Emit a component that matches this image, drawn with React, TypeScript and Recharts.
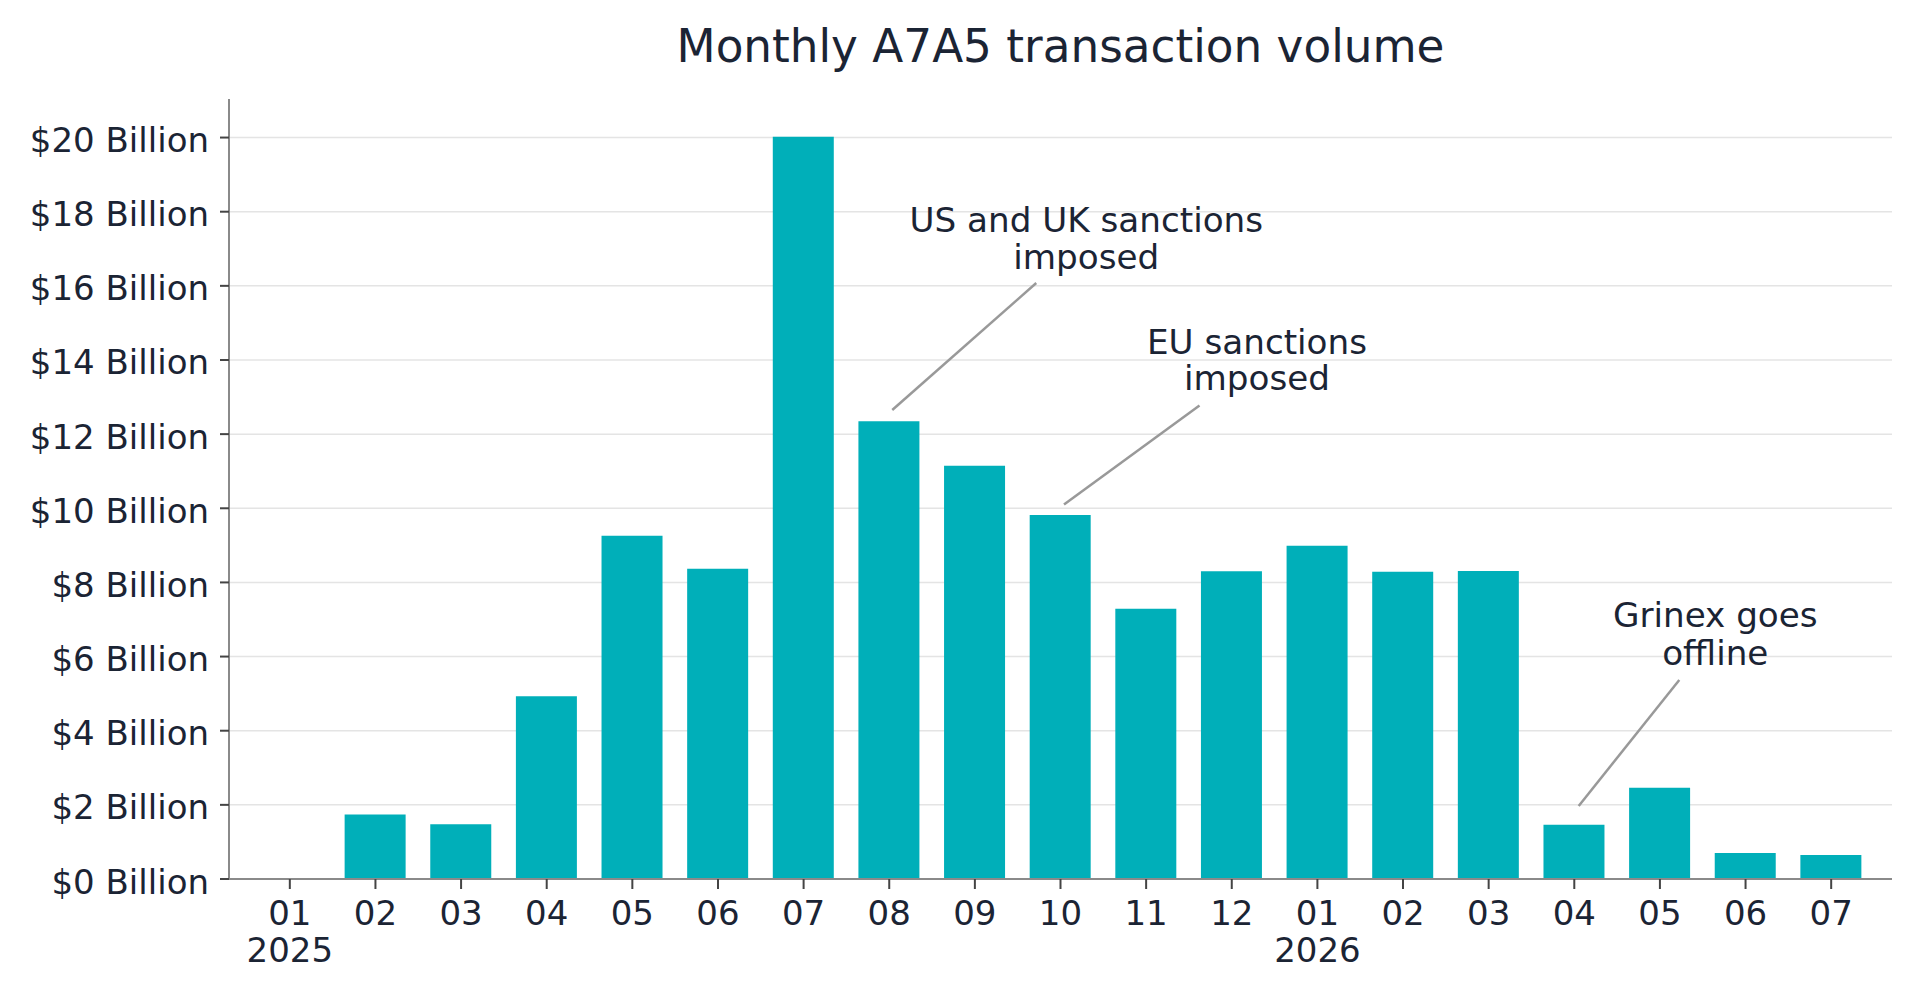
import React from 'react';
import { BarChart, Bar, XAxis, YAxis, CartesianGrid, ReferenceDot } from 'recharts';

// ---- data ----
const months = [
  '2025-01', '2025-02', '2025-03', '2025-04', '2025-05', '2025-06', '2025-07',
  '2025-08', '2025-09', '2025-10', '2025-11', '2025-12',
  '2026-01', '2026-02', '2026-03', '2026-04', '2026-05', '2026-06', '2026-07',
];
const monthLabels = ['01', '02', '03', '04', '05', '06', '07', '08', '09', '10', '11', '12', '01', '02', '03', '04', '05', '06', '07'];
const yearLabels = ['2025', '', '', '', '', '', '', '', '', '', '', '', '2026', '', '', '', '', '', ''];
const volumes = [0, 1.74, 1.48, 4.93, 9.26, 8.37, 20.02, 12.35, 11.15, 9.82, 7.29, 8.3, 8.99, 8.29, 8.31, 1.46, 2.46, 0.7, 0.65];
const yTicks = [0, 2, 4, 6, 8, 10, 12, 14, 16, 18, 20];
const chartTitle = 'Monthly A7A5 transaction volume';

const annotationMonths = ['2025-08', '2025-10', '2026-04'];
const annotationValues = [12.65, 10.1, 1.97];
const annotationTexts = [
  ['US and UK sanctions', 'imposed'],
  ['EU sanctions', 'imposed'],
  ['Grinex goes', 'offline'],
];

const data = months.map((m, i) => ({ month: m, volume: volumes[i] }));

// ---- styles ----
const FONT = '"DejaVu Sans", Verdana, sans-serif';
const TEXT = '#1b2434';
const BAR = '#00afb9';
const AXIS = '#8a8a8a';
const GRID = '#e4e4e4';
const LEADER = '#999999';

// pixel offsets of leader lines / text relative to annotated point
const annotationLayout = [
  { tipDx: 3, startDx: 147, startDy: -127, textDx: 197, base1: -178, base2: -141.5 },
  { tipDx: 3.5, startDx: 139, startDy: -99, textDx: 196.5, base1: -151, base2: -114.5 },
  { tipDx: 4.4, startDx: 105, startDy: -126, textDx: 141, base1: -178.5, base2: -141 },
];

const YTick = (props: any) => {
  const { x, y, payload } = props;
  return (
    <text x={x} y={y + 14.5} textAnchor="end" fontFamily={FONT} fontSize={34} fill={TEXT}>
      {`$${payload.value} Billion`}
    </text>
  );
};

const XTick = (props: any) => {
  const { x, y, index } = props;
  const yr = yearLabels[index];
  return (
    <g>
      <text x={x} y={y + 34} textAnchor="middle" fontFamily={FONT} fontSize={34} fill={TEXT}>
        {monthLabels[index]}
      </text>
      {yr ? (
        <text x={x} y={y + 71} textAnchor="middle" fontFamily={FONT} fontSize={34} fill={TEXT}>
          {yr}
        </text>
      ) : null}
    </g>
  );
};

const makeAnnotationShape = (i: number) => (props: any) => {
  const { cx, cy } = props;
  const L = annotationLayout[i];
  const lines = annotationTexts[i];
  return (
    <g>
      <line
        x1={cx + L.startDx}
        y1={cy + L.startDy}
        x2={cx + L.tipDx}
        y2={cy}
        stroke={LEADER}
        strokeWidth={2.5}
      />
      <text x={cx + L.textDx} y={cy + L.base1} textAnchor="middle" fontFamily={FONT} fontSize={34.2} fill={TEXT}>
        {lines[0]}
      </text>
      <text x={cx + L.textDx} y={cy + L.base2} textAnchor="middle" fontFamily={FONT} fontSize={34.2} fill={TEXT}>
        {lines[1]}
      </text>
    </g>
  );
};

export default function App() {
  return (
    <div style={{ position: 'absolute', left: 0, top: 0, width: 1920, height: 998, background: '#ffffff' }}>
      <svg width={1920} height={90} style={{ position: 'absolute', left: 0, top: 0 }}>
        <text x={1060.5} y={62} textAnchor="middle" fontFamily={FONT} fontSize={45.3} fill={TEXT}>
          {chartTitle}
        </text>
      </svg>
      <div style={{ position: 'absolute', left: 0, top: 0 }}>
        <BarChart
          width={1920}
          height={998}
          data={data}
          margin={{ top: 99, right: 28, bottom: 0, left: 0 }}
        >
          <CartesianGrid horizontal vertical={false} syncWithTicks stroke={GRID} strokeWidth={1.5} />
          <XAxis
            dataKey="month"
            type="category"
            height={119}
            padding={{ left: 18, right: 18 }}
            interval={0}
            tickSize={10}
            tickMargin={2}
            axisLine={{ stroke: AXIS, strokeWidth: 2 }}
            tickLine={{ stroke: '#444', strokeWidth: 2 }}
            tick={<XTick />}
          />
          <YAxis
            width={229}
            type="number"
            domain={[0, 21.04]}
            ticks={yTicks}
            interval={0}
            tickSize={9}
            tickMargin={11}
            axisLine={{ stroke: AXIS, strokeWidth: 2 }}
            tickLine={{ stroke: '#444', strokeWidth: 2 }}
            tick={<YTick />}
          />
          <Bar dataKey="volume" fill={BAR} barSize={61} isAnimationActive={false} />
          {annotationMonths.map((m, i) => (
            <ReferenceDot
              key={m}
              x={m}
              y={annotationValues[i]}
              r={0}
              ifOverflow="visible"
              shape={makeAnnotationShape(i)}
            />
          ))}
        </BarChart>
      </div>
    </div>
  );
}
